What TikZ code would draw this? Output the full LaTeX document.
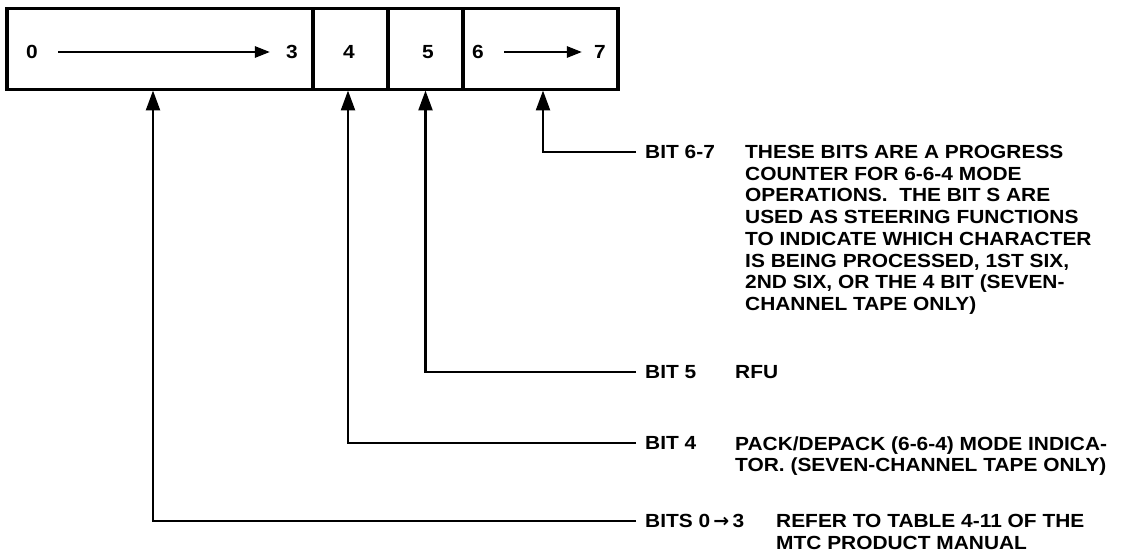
\documentclass[tikz,border=0pt]{standalone}
\usepackage{fontspec}
\newfontfamily\manualfont{Liberation Sans}[FakeStretch=1.1]
\newfontfamily\arrowfont{DejaVu Sans}
\usetikzlibrary{positioning,arrows.meta}

\tikzset{
  regcell/.style={draw, line width=3.4pt, inner sep=0pt, outer sep=0pt, minimum height=81pt},
  bitnum/.style={font=\manualfont\bfseries\fontsize{19}{21.7}\selectfont, inner sep=0pt},
  bitlbl/.style={font=\manualfont\bfseries\fontsize{19}{21.7}\selectfont, anchor=west, inner xsep=9pt, inner ysep=0pt},
  bitdesc/.style={font=\manualfont\bfseries\fontsize{19}{21.7}\selectfont, inner sep=0pt, align=left},
  pointer/.style={line width=2.4pt, shorten >=1pt, -{Triangle[length=20pt,width=14pt]}},
  rangearrow/.style={line width=2.6pt, -{Triangle[length=15pt,width=11pt]}}
}

\begin{document}
\begin{tikzpicture}[x=1pt,y=-1pt]
\useasboundingbox (0,0) rectangle (1131,556);

% register cells
\node[regcell, minimum width=306pt] (cell03) at (160,49) {};
\node[regcell, minimum width=75pt, right=0pt of cell03] (cell4) {};
\node[regcell, minimum width=75pt, right=0pt of cell4] (cell5) {};
\node[regcell, minimum width=155pt, right=0pt of cell5] (cell67) {};

% bit numbers
\node[bitnum] (n0) at (32,52) {0};
\node[bitnum] (n3) at (292,52) {3};
\node[bitnum] (n4) at (349,52) {4};
\node[bitnum] (n5) at (428,52) {5};
\node[bitnum] (n6) at (478,52) {6};
\node[bitnum] (n7) at (600,52) {7};

\draw[rangearrow, shorten <=20pt, shorten >=16pt] (n0) -- (n3);
\draw[rangearrow, shorten <=20pt, shorten >=12pt] (n6) -- (n7);

% labels
\node[bitlbl] (lbl67) at (636,152) {BIT 6-7};
\node[bitlbl] (lbl5) at (636,372) {BIT 5};
\node[bitlbl] (lbl4) at (636,443) {BIT 4};
\node[bitlbl] (lbl03) at (636,521) {BITS 0\,{\arrowfont\bfseries →}\,3};

\node[bitdesc, anchor=north west] (desc67) at (lbl67.north -| 745,0)
  {THESE BITS ARE A PROGRESS\\
   COUNTER FOR 6-6-4 MODE\\
   OPERATIONS.\ \ THE BIT S ARE\\
   USED AS STEERING FUNCTIONS\\
   TO INDICATE WHICH CHARACTER\\
   IS BEING PROCESSED, 1ST SIX,\\
   2ND SIX, OR THE 4 BIT (SEVEN-\\
   CHANNEL TAPE ONLY)};
\node[bitdesc, anchor=base west] (desc5) at (lbl5.base -| 735,0) {RFU};
\node[bitdesc, anchor=north west] (desc4) at (lbl4.north -| 735,0)
  {PACK/DEPACK (6-6-4) MODE INDICA-\\
   TOR. (SEVEN-CHANNEL TAPE ONLY)};
\node[bitdesc, anchor=north west] (desc03) at (lbl03.north -| 776,0)
  {REFER TO TABLE 4-11 OF THE\\
   MTC PRODUCT MANUAL};

% pointers
\draw[pointer] (lbl67.west) -| ([xshift=2.5pt]cell67.south);
\draw[pointer] (lbl5.west) -| (cell5.south);
\draw[pointer] (lbl4.west) -| ([xshift=-2.5pt]cell4.south);
\draw[pointer] (lbl03.west) -| ([xshift=-7pt]cell03.south);
\end{tikzpicture}
\end{document}
